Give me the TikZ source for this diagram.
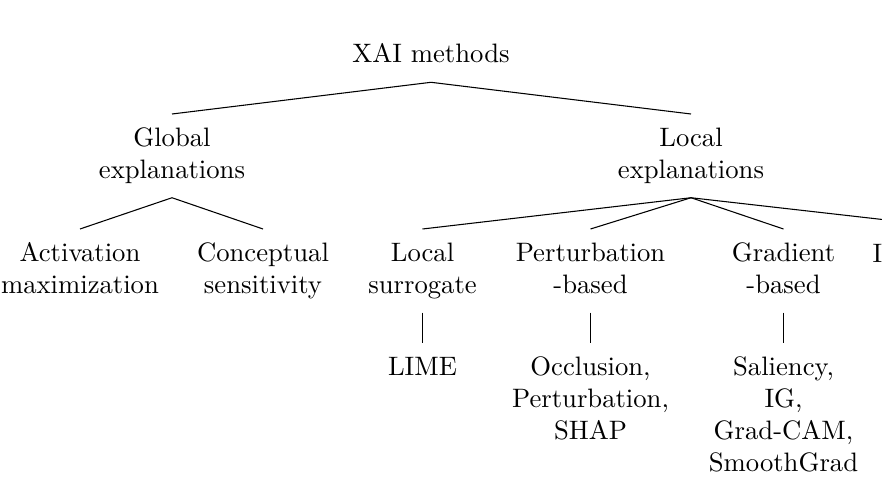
\documentclass[tikz,border=0pt]{standalone}
\begin{document}
\begin{tikzpicture}[x=0.375pt,y=-0.375pt,
  lbl/.style={align=center, inner sep=3.5pt},
  link/.style={line width=0.4pt}]
\clip (0,0) rectangle (882,498);
\useasboundingbox (0,0) rectangle (882,498);
\node[lbl, anchor=south] (root) at (431,82.3) {\strut XAI methods\strut};
\node[lbl, anchor=north] (glob) at (172,114) {\strut Global\\explanations\strut};
\node[lbl, anchor=north] (loc) at (691,114) {\strut Local\\explanations\strut};
\node[lbl, anchor=north] (act) at (80,229) {\strut Activation\\maximization\strut};
\node[lbl, anchor=north] (con) at (263,229) {\strut Conceptual\\sensitivity\strut};
\node[lbl, anchor=north] (sur) at (422.5,229) {\strut Local\\surrogate\strut};
\node[lbl, anchor=north] (pert) at (590.5,229) {\strut Perturbation\\-based\strut};
\node[lbl, anchor=north] (grad) at (783.5,229) {\strut Gradient\\-based\strut};
\node[lbl, anchor=north] (lime) at (422.5,343) {\strut LIME\strut};
\node[lbl, anchor=north] (pm) at (590.5,343) {\strut Occlusion,\\Perturbation,\\SHAP\strut};
\node[lbl, anchor=north] (gm) at (783.5,343) {\strut Saliency,\\IG,\\Grad-CAM,\\SmoothGrad\strut};
\coordinate (intr) at (966,229);
\node[inner sep=0pt, anchor=base west] (intrtext) at (872,262) {I};
\draw[link] (root.south) -- (glob.north);
\draw[link] (root.south) -- (loc.north);
\draw[link] (glob.south) -- (act.north);
\draw[link] (glob.south) -- (con.north);
\draw[link] (loc.south) -- (sur.north);
\draw[link] (loc.south) -- (pert.north);
\draw[link] (loc.south) -- (grad.north);
\draw[link] (loc.south) -- (intr);
\draw[link] (sur.south) -- (lime.north);
\draw[link] (pert.south) -- (pm.north);
\draw[link] (grad.south) -- (gm.north);
\end{tikzpicture}
\end{document}
